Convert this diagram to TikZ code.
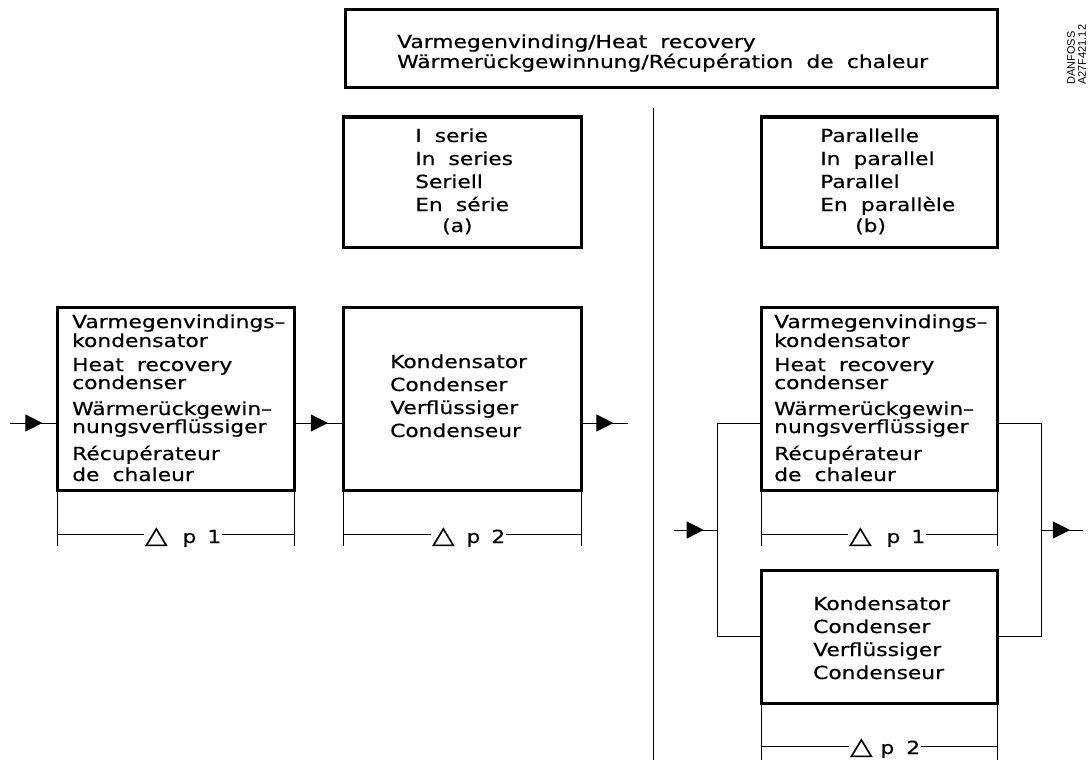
\documentclass[tikz,border=0pt]{standalone}
\usepackage{fontspec}
\setmainfont[FakeStretch=1.21,WordSpace=1.9,FakeBold=0.5]{DejaVu Sans}
\newfontfamily\lib{Liberation Sans}
\usetikzlibrary{arrows.meta,decorations.markings}
\newcommand{\tri}{{\fontsize{24}{24}\selectfont △}}
\begin{document}
\begin{tikzpicture}[x=1pt,y=-1pt,
  box/.style={draw, line width=3pt, inner sep=0pt, outer sep=0pt, anchor=north west},
  wire/.style={line width=1pt},
  lbl/.style={anchor=base west, inner sep=0pt, font=\fontsize{18}{22}\selectfont},
  dimtxt/.style={anchor=base west, inner xsep=1pt, inner ysep=0pt, font=\fontsize{18}{22}\selectfont},
  midarrow/.style={postaction={decorate}, decoration={markings,
    mark=at position 0.69 with {\arrow{Triangle[length=17pt,width=17pt]}}}},
]
\useasboundingbox (0,0) rectangle (1088,760);

% boxes
\node[box, minimum width=652pt, minimum height=78pt] (top) at (345,10) {};
\node[box, minimum width=238pt, minimum height=130pt] (ser) at (343,117) {};
\node[box, minimum width=236pt, minimum height=130pt] (par) at (761,117) {};
\node[box, minimum width=237pt, minimum height=183pt] (b1) at (57,307) {};
\node[box, minimum width=238pt, minimum height=183pt] (b2) at (343,307) {};
\node[box, minimum width=236pt, minimum height=183pt] (b3) at (761,307) {};
\node[box, minimum width=236pt, minimum height=133pt] (b4) at (761,570) {};

% title
\node[lbl] (tt1) at (397,48) {Varmegenvinding/Heat recovery};
\node[lbl] (tt2) at (397,68) {Wärmerückgewinnung/Récupération de chaleur};

% series / parallel labels
\foreach \yy/\txt [count=\i] in {142/I serie, 165/In series, 188/Seriell, 211/En série}
  \node[lbl] (sa\i) at (415,\yy) {\txt};
\node[lbl] (sa5) at (442,232) {(a)};
\foreach \yy/\txt [count=\i] in {142/Parallelle, 165/In parallel, 188/Parallel, 211/En parallèle}
  \node[lbl] (pb\i) at (820,\yy) {\txt};
\node[lbl] (pb5) at (855,232) {(b)};

% heat recovery condenser texts
\foreach \xx/\nm in {72/l, 774/r}{
  \foreach \yy/\txt [count=\i] in {328/Varmegenvindings–, 347/kondensator, 371/Heat recovery, 389/condenser, 415/Wärmerückgewin–, 433/nungsverflüssiger, 460/Récupérateur, 481/de chaleur}
    \node[lbl] (hr\nm\i) at (\xx,\yy) {\txt};
}
% condenser texts
\foreach \xx/\yb/\nm in {390/368/l, 813/610/r}{
  \foreach \dy/\txt [count=\i] in {0/Kondensator, 23/Condenser, 46/Verflüssiger, 69/Condenseur}
    \node[lbl] (cd\nm\i) at (\xx,\yb+\dy) {\txt};
}

% separator
\coordinate (s1) at (653,108);
\coordinate (s2) at (653,760);
\draw[wire] (s1) -- (s2);

% series flow
\coordinate (in) at (10,423);
\coordinate (out) at (628,423);
\draw[wire, midarrow] (in) -- (in -| b1.west);
\draw[wire, midarrow] (in -| b1.east) -- (in -| b2.west);
\draw[wire, midarrow] (in -| b2.east) -- (out);

% parallel flow
\coordinate (pin) at (674,530);
\coordinate (pl) at (717,530);
\coordinate (pr) at (1041,530);
\coordinate (pout) at (1083,530);
\coordinate (ja) at (717,423);
\coordinate (jb) at (717,636);
\coordinate (ka) at (1041,423);
\coordinate (kb) at (1041,636);
\draw[wire, midarrow] (pin) -- (pl);
\draw[wire] (ja -| b3.west) -- (ja) -- (jb) -- (jb -| b4.west);
\draw[wire] (ka -| b3.east) -- (ka) -- (kb) -- (kb -| b4.east);
\draw[wire, midarrow] (pr) -- (pout);

% dimension: b1
\coordinate (d1l) at (57,534); \coordinate (d1r) at (294,534);
\draw[wire] (b1.south west) -- (57,546);
\draw[wire] (b1.south east) -- (294,546);
\node[dimtxt] (dp1) at (144,543) {\tri\hspace{15pt}p\hspace{11pt}1};
\draw[wire] (d1l) -- (dp1.west |- d1l);
\draw[wire] (dp1.east |- d1r) -- (d1r);

% dimension: b2
\coordinate (d2l) at (343,534); \coordinate (d2r) at (581,534);
\draw[wire] (b2.south west) -- (343,546);
\draw[wire] (b2.south east) -- (581,546);
\node[dimtxt] (dp2) at (431,543) {\tri\hspace{12pt}p\hspace{11pt}2};
\draw[wire] (d2l) -- (dp2.west |- d2l);
\draw[wire] (dp2.east |- d2r) -- (d2r);

% dimension: b3
\coordinate (d3l) at (761,534); \coordinate (d3r) at (997,534);
\draw[wire] (b3.south west) -- (761,546);
\draw[wire] (b3.south east) -- (997,546);
\node[dimtxt] (dp3) at (848,543) {\tri\hspace{15pt}p\hspace{11pt}1};
\draw[wire] (d3l) -- (dp3.west |- d3l);
\draw[wire] (dp3.east |- d3r) -- (d3r);

% dimension: b4
\coordinate (d4l) at (761,746); \coordinate (d4r) at (997,746);
\draw[wire] (b4.south west) -- (761,760);
\draw[wire] (b4.south east) -- (997,760);
\node[dimtxt] (dp4) at (849,754) {\tri\hspace{8pt}p\hspace{12pt}2};
\draw[wire] (d4l) -- (dp4.west |- d4l);
\draw[wire] (dp4.east |- d4r) -- (d4r);

% drawing number
\node[rotate=90, anchor=south west, inner sep=0pt, align=left,
  font=\lib\fontsize{11}{11}\selectfont] (dno) at (1086,85) {DANFOSS\\A27F421.12};
\end{tikzpicture}
\end{document}
